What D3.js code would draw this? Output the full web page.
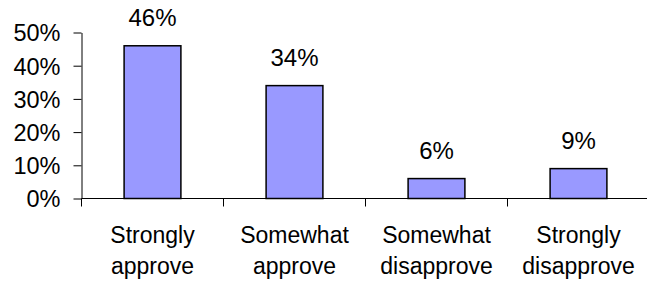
<!DOCTYPE html>
<html>
<head>
<meta charset="utf-8">
<script src="https://cdn.jsdelivr.net/npm/d3@7"></script>
<style>
  html, body { margin: 0; padding: 0; background: #fff; }
  svg { display: block; font-family: Arial, "Liberation Sans", sans-serif; }
</style>
</head>
<body>
<div id="chart"></div>
<script>
  // chart data
  const categories = [
    ['Strongly', 'approve'],
    ['Somewhat', 'approve'],
    ['Somewhat', 'disapprove'],
    ['Strongly', 'disapprove']
  ];
  const values = [0.46, 0.34, 0.06, 0.09];
  const yTicks = [0, 0.1, 0.2, 0.3, 0.4, 0.5];

  const width = 647;
  const height = 286;
  const left = 81.5, right = 649.5, zeroY = 198.5, topY = 32.5;

  const svg = d3.select('#chart').append('svg')
    .attr('width', width)
    .attr('height', height);

  const keys = categories.map((d, i) => i);
  const x = d3.scaleBand().domain(keys).range([left, right])
    .paddingInner(0.6).paddingOuter(0.3);
  const y = d3.scaleLinear().domain([0, 0.5]).range([zeroY, topY]);
  const pct = d3.format('.0%');

  // y axis
  const yAxis = d3.axisLeft(y).tickValues(yTicks).tickFormat(pct)
    .tickSize(8).tickSizeOuter(0).tickPadding(13);
  const yG = svg.append('g').attr('transform', `translate(${left},0)`).call(yAxis);
  yG.select('.domain').attr('stroke', '#000');
  yG.selectAll('.tick line').attr('stroke', '#000');
  yG.selectAll('.tick text')
    .attr('fill', '#000')
    .style('font-size', '23.5px')
    .attr('dy', '0.36em');

  // x axis line and category separators
  svg.append('line')
    .attr('x1', left).attr('x2', right)
    .attr('y1', zeroY).attr('y2', zeroY)
    .attr('stroke', '#000');
  const step = x.step();
  const bounds = d3.range(categories.length + 1).map(i => left + i * step);
  svg.selectAll('.sep').data(bounds).join('line')
    .attr('class', 'sep')
    .attr('x1', d => d).attr('x2', d => d)
    .attr('y1', zeroY).attr('y2', zeroY + 8)
    .attr('stroke', '#000');

  // bars
  svg.selectAll('.bar').data(values).join('rect')
    .attr('class', 'bar')
    .attr('x', (d, i) => x(i))
    .attr('y', d => y(d))
    .attr('width', x.bandwidth())
    .attr('height', d => zeroY - y(d))
    .attr('fill', '#9999ff')
    .attr('stroke', '#000')
    .attr('stroke-width', 1.5);

  // value labels
  svg.selectAll('.val').data(values).join('text')
    .attr('class', 'val')
    .attr('x', (d, i) => x(i) + x.bandwidth() / 2)
    .attr('y', d => y(d) - 19.5)
    .attr('text-anchor', 'middle')
    .style('font-size', '24px')
    .text(d => pct(d));

  // category labels
  const cat = svg.selectAll('.cat').data(categories).join('text')
    .attr('class', 'cat')
    .attr('text-anchor', 'middle')
    .style('font-size', '23px');
  cat.selectAll('tspan').data((d, i) => d.map(t => ({ t, i }))).join('tspan')
    .attr('x', d => x(d.i) + x.bandwidth() / 2)
    .attr('y', (d, j) => 243 + j * 31)
    .text(d => d.t);
</script>
</body>
</html>
